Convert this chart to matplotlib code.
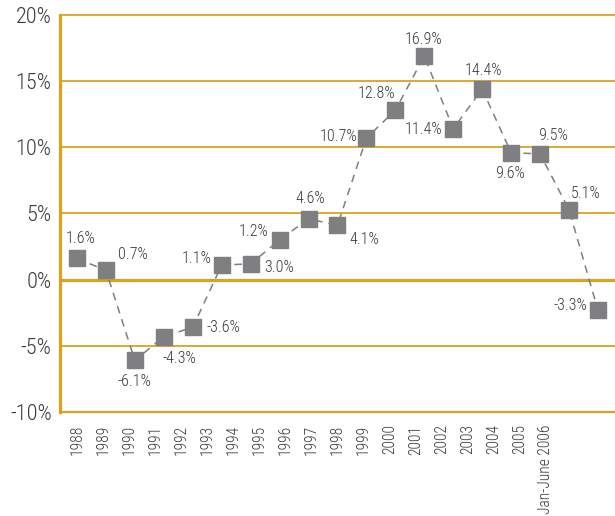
import matplotlib.pyplot as plt
import numpy as np

years = ['1988', '1989', '1990', '1991', '1992', '1993', '1994', '1995', '1996',
         '1997', '1998', '1999', '2000', '2001', '2002', '2003', '2004', '2005',
         'Jan-June 2006']
values = [1.6, 0.7, -6.1, -4.3, -3.6, 1.1, 1.2, 3.0, 4.6, 4.1, 10.7, 12.8,
          16.9, 11.4, 14.4, 9.6, 9.5, 5.3, -2.3]
labels = ['1.6%', '0.7%', '-6.1%', '-4.3%', '-3.6%', '1.1%', '3.0%', '1.2%',
          '4.6%', '4.1%', '10.7%', '12.8%', '16.9%', '11.4%', '14.4%', '9.6%',
          '9.5%', '5.1%', '-3.3%']
yticks = [-10, -5, 0, 5, 10, 15, 20]

# label offsets in pixels (dx, dy up) relative to each marker
offsets = [(4, 20), (27, 16), (0, -21), (16, -22), (31, 0), (-25, 7), (28, -4),
           (-26, 8), (2, 20), (27, -14), (-28, 2), (-19, 17), (-1, 17),
           (-30, -1), (1, 19), (-1, -21), (13, 18), (17, 16), (-28, 5)]

gold = '#DBA21E'
grey = '#7F7F81'
txt = '#3A3A3A'
fam = ['Roboto Condensed', 'DejaVu Sans']

fig = plt.figure(figsize=(6.15, 5.16), dpi=100)
ax = fig.add_axes([60 / 615, 1 - 412 / 516, 1 - 60 / 615, 397 / 516])

x = np.arange(len(values))
for v in yticks:
    lw = 2.3 if v == 0 else (1.6 if v == -10 else 1.3)
    ax.axhline(v, color=gold, lw=lw, zorder=1, clip_on=False)

ax.plot(x, values, color=grey, lw=1.1, dashes=(5, 4), zorder=2)
ax.plot(x, values, ls='none', marker='s', ms=12, color=grey, zorder=3)

for xi, v, lab, (dx, dy) in zip(x, values, labels, offsets):
    ax.annotate(lab, (xi, v), xytext=(dx * 0.72, dy * 0.72),
                textcoords='offset points', ha='center', va='center',
                fontsize=11.5, color=txt, family=fam, weight='light')

ax.set_xlim(-0.587, 18.59)
ax.set_ylim(-10, 20)
ax.set_yticks(yticks)
ax.set_yticklabels([f'{v}%' for v in yticks], fontsize=16, color=txt,
                   family=fam, weight='light')
ax.set_xticks(x * 0.9)
ax.set_xticklabels(years, rotation=90, fontsize=11.2, color=txt, family=fam,
                   weight='light')
ax.tick_params(axis='both', length=0)
ax.tick_params(axis='x', pad=9)
ax.tick_params(axis='y', pad=6)

for s in ['top', 'right', 'bottom']:
    ax.spines[s].set_visible(False)
ax.spines['left'].set_color(gold)
ax.spines['left'].set_linewidth(2.3)

fig.savefig('out.png', dpi=100)
